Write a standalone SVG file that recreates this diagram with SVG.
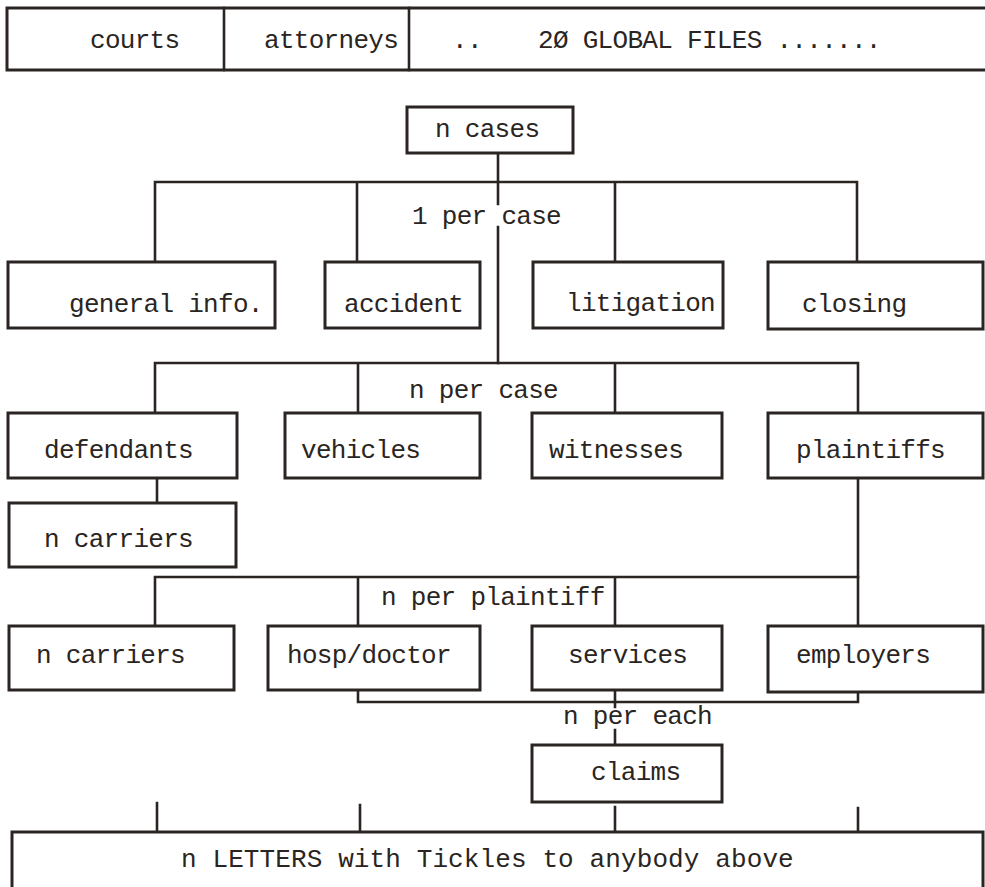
<svg xmlns="http://www.w3.org/2000/svg" width="985" height="887" viewBox="0 0 985 887">
<style>
.box{fill:#fff;stroke:#2a2522;stroke-width:3}
.ln{fill:none;stroke:#2a2522;stroke-width:2.6;stroke-linecap:square}
.t{font-family:"Liberation Mono","DejaVu Sans Mono",monospace;font-size:26px;fill:#2a2522;letter-spacing:-0.7px}
</style>
<rect width="985" height="887" fill="#fff"/>
<g id="global-files">
<rect class="box" x="7" y="8" width="980" height="62"/>
<line class="ln" x1="224" y1="8" x2="224" y2="70"/>
<line class="ln" x1="409" y1="8" x2="409" y2="70"/>
<text class="t" x="90" y="48">courts</text>
<text class="t" x="264" y="48">attorneys</text>
<text class="t" x="452" y="48">..</text>
<text class="t" x="538" y="48">2Ø GLOBAL FILES .......</text>
</g>
<g id="connectors">
<path class="ln" d="M498 153V204M498 227V363"/>
<path class="ln" d="M155 262V182H857V262M357 182V262M615 182V262"/>
<path class="ln" d="M155 413V363H858V413M358 363V413M615 363V413"/>
<path class="ln" d="M157 478V503"/>
<path class="ln" d="M858 478V577"/>
<path class="ln" d="M155 626V577H858V626M358 577V626M615 577V626"/>
<path class="ln" d="M358 690V702H858V692"/>
<path class="ln" d="M615 690V707M615 730V745"/>
<path class="ln" d="M157 803V832M360 805V832M615 807V832M858 808V832"/>
</g>
<g id="n-cases"><rect class="box" x="407" y="107" width="166" height="46"/><text class="t" x="435" y="137">n cases</text></g>
<g id="label-1-per-case"><text class="t" x="412" y="224">1 per case</text></g>
<g id="general-info"><rect class="box" x="8" y="262" width="267" height="66"/><text class="t" x="69" y="312">general info.</text></g>
<g id="accident"><rect class="box" x="325" y="262" width="155" height="66"/><text class="t" x="344" y="312">accident</text></g>
<g id="litigation"><rect class="box" x="533" y="262" width="190" height="66"/><text class="t" x="566" y="311">litigation</text></g>
<g id="closing"><rect class="box" x="768" y="262" width="215" height="67"/><text class="t" x="802" y="312">closing</text></g>
<g id="label-n-per-case"><text class="t" x="409" y="398">n per case</text></g>
<g id="defendants"><rect class="box" x="8" y="413" width="229" height="65"/><text class="t" x="44" y="458">defendants</text></g>
<g id="vehicles"><rect class="box" x="285" y="413" width="195" height="65"/><text class="t" x="301" y="458">vehicles</text></g>
<g id="witnesses"><rect class="box" x="532" y="413" width="190" height="65"/><text class="t" x="549" y="458">witnesses</text></g>
<g id="plaintiffs"><rect class="box" x="768" y="413" width="215" height="65"/><text class="t" x="796" y="458">plaintiffs</text></g>
<g id="defendant-carriers"><rect class="box" x="9" y="503" width="227" height="64"/><text class="t" x="44" y="547">n carriers</text></g>
<g id="label-n-per-plaintiff"><text class="t" x="381" y="605">n per plaintiff</text></g>
<g id="plaintiff-carriers"><rect class="box" x="9" y="626" width="225" height="64"/><text class="t" x="36" y="663">n carriers</text></g>
<g id="hosp-doctor"><rect class="box" x="268" y="626" width="212" height="64"/><text class="t" x="287" y="663">hosp/doctor</text></g>
<g id="services"><rect class="box" x="532" y="626" width="190" height="64"/><text class="t" x="568" y="663">services</text></g>
<g id="employers"><rect class="box" x="768" y="626" width="215" height="66"/><text class="t" x="796" y="663">employers</text></g>
<g id="label-n-per-each"><text class="t" x="563" y="724">n per each</text></g>
<g id="claims"><rect class="box" x="532" y="745" width="190" height="57"/><text class="t" x="591" y="780">claims</text></g>
<g id="letters"><rect class="box" x="12" y="832" width="971" height="70"/><text class="t" x="181" y="867" textLength="612" lengthAdjust="spacing">n LETTERS with Tickles to anybody above</text></g>
</svg>
